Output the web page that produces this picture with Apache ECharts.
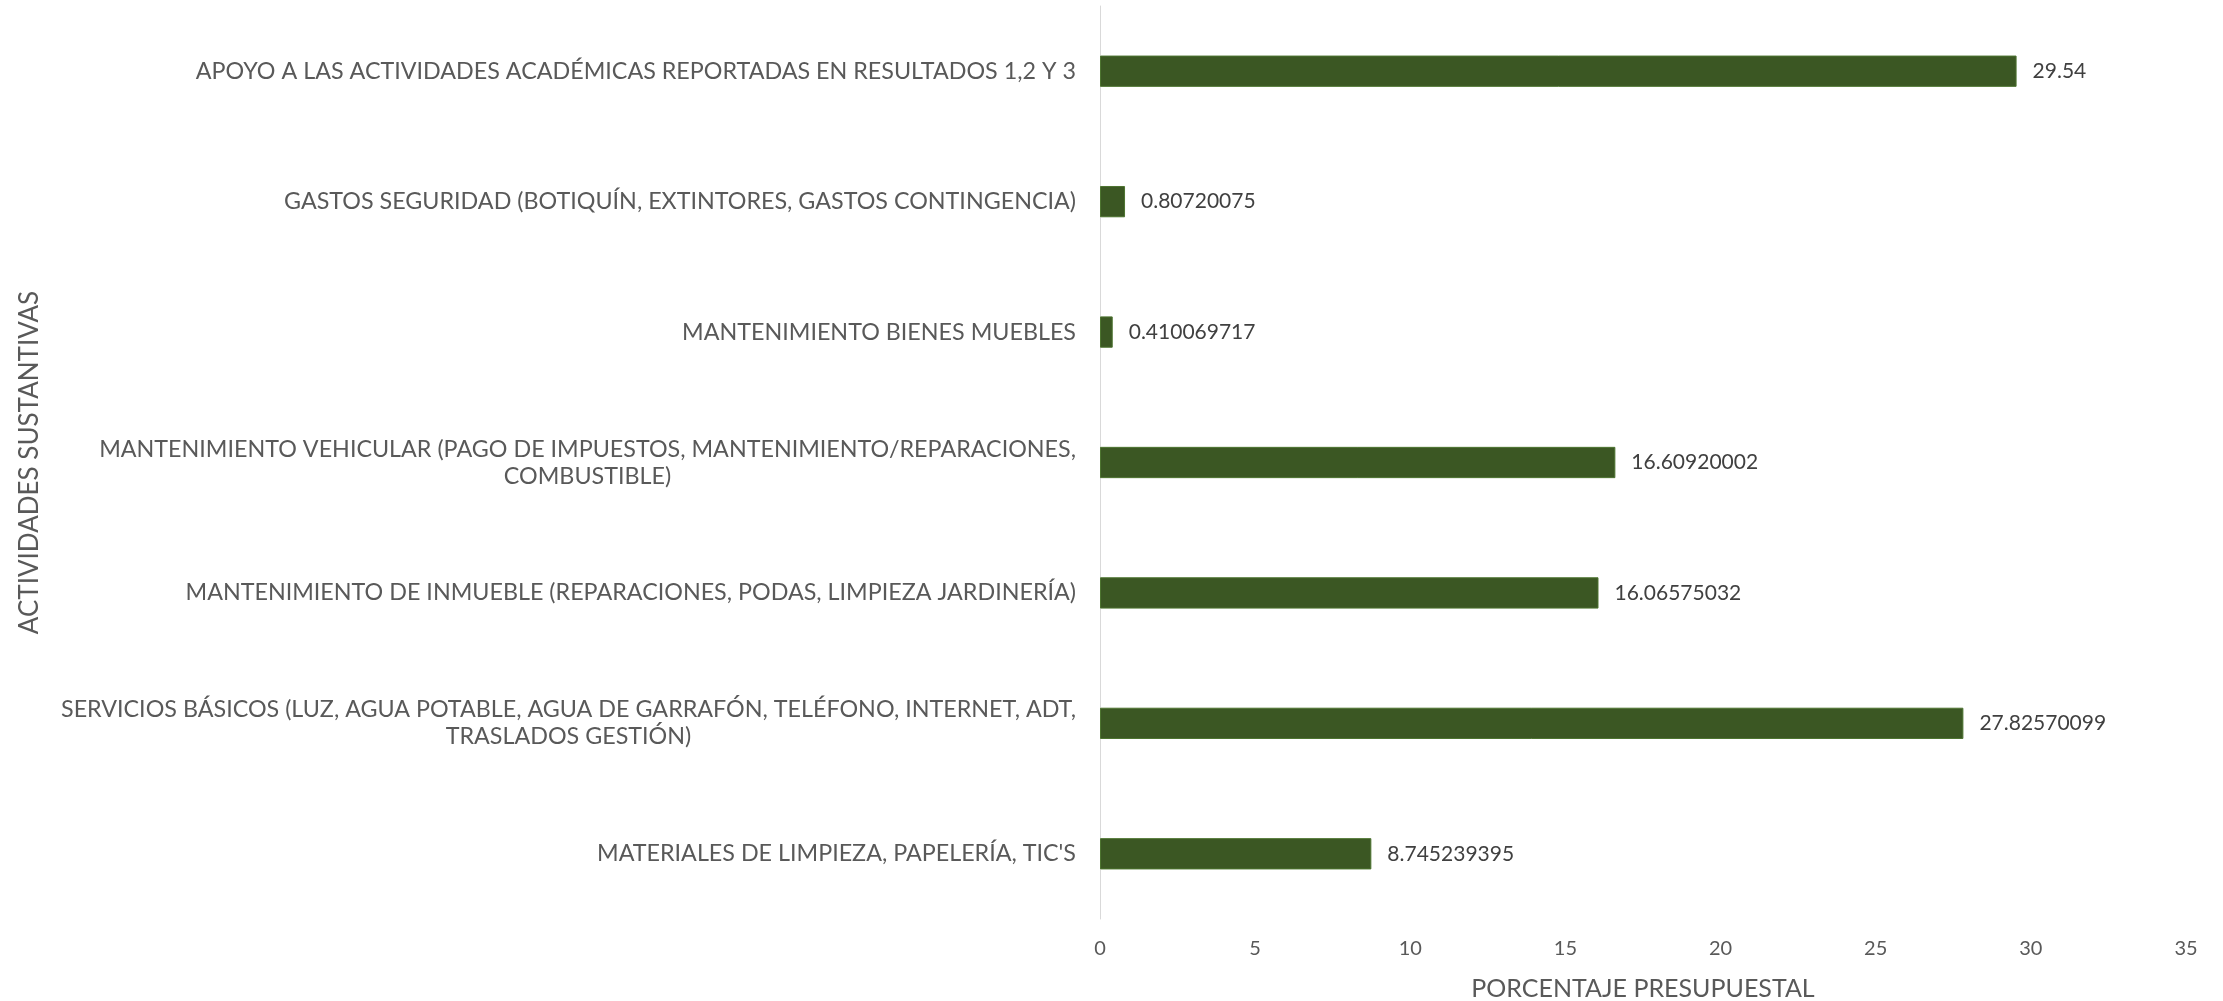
<!DOCTYPE html>
<html>
<head>
<meta charset="utf-8">
<script src="https://cdn.jsdelivr.net/npm/echarts@6/dist/echarts.min.js"></script>
<style>
html,body{margin:0;padding:0;background:#fff;}
#c{width:2223px;height:1001px;}
</style>
</head>
<body>
<div id="c"></div>
<script>
const categories = [
  "MATERIALES DE LIMPIEZA, PAPELERÍA, TIC'S",
  "SERVICIOS BÁSICOS (LUZ, AGUA POTABLE, AGUA DE GARRAFÓN, TELÉFONO, INTERNET, ADT,\nTRASLADOS GESTIÓN)",
  "MANTENIMIENTO DE INMUEBLE (REPARACIONES, PODAS, LIMPIEZA JARDINERÍA)",
  "MANTENIMIENTO VEHICULAR (PAGO DE IMPUESTOS, MANTENIMIENTO/REPARACIONES,\nCOMBUSTIBLE)",
  "MANTENIMIENTO BIENES MUEBLES",
  "GASTOS SEGURIDAD (BOTIQUÍN, EXTINTORES, GASTOS CONTINGENCIA)",
  "APOYO A LAS ACTIVIDADES ACADÉMICAS REPORTADAS EN RESULTADOS 1,2 Y 3"
];
const values = [8.745239395, 27.82570099, 16.06575032, 16.60920002, 0.410069717, 0.80720075, 29.54];
const valueLabels = ["8.745239395", "27.82570099", "16.06575032", "16.60920002", "0.410069717", "0.80720075", "29.54"];
const xTicks = [0, 5, 10, 15, 20, 25, 30, 35];

const FONT = 'Lato';
const LABEL_SIZE = 23.3;
const LINE_H = 27;
const TEXT = '#595959';

const cv = document.createElement('canvas').getContext('2d');
cv.font = LABEL_SIZE + 'px ' + FONT;

const chart = echarts.init(document.getElementById('c'));
chart.setOption({
  animation: false,
  backgroundColor: '#ffffff',
  grid: { left: 1100, right: 37, top: 6, bottom: 82, containLabel: false, outerBoundsMode: 'none' },
  xAxis: {
    type: 'value',
    min: xTicks[0],
    max: xTicks[xTicks.length - 1],
    interval: 5,
    name: 'PORCENTAJE PRESUPUESTAL',
    nameLocation: 'middle',
    nameGap: 57,
    nameTextStyle: { fontFamily: FONT, fontSize: 25, color: TEXT },
    axisLine: { show: false },
    axisTick: { show: false },
    splitLine: { show: false },
    axisLabel: { fontFamily: FONT, fontSize: 20, color: TEXT, margin: 20 }
  },
  yAxis: {
    type: 'category',
    data: categories,
    name: 'ACTIVIDADES SUSTANTIVAS',
    nameLocation: 'middle',
    nameRotate: 90,
    nameGap: 1057,
    nameTextStyle: { fontFamily: FONT, fontSize: 26, color: TEXT },
    axisLine: { show: true, lineStyle: { color: '#d9d9d9', width: 1 } },
    axisTick: { show: false },
    axisLabel: {
      fontFamily: FONT, fontSize: LABEL_SIZE, color: TEXT, margin: 24, lineHeight: LINE_H,
      formatter: function (v) {
        const parts = v.split('\n');
        if (parts.length === 1) return '{a|' + v + '}';
        const w = Math.ceil(cv.measureText(parts[0]).width);
        return '{a|' + parts[0] + '}\n{b' + w + '|' + parts[1] + '}';
      },
      rich: (function () {
        const r = { a: { fontFamily: FONT, fontSize: LABEL_SIZE, color: TEXT, lineHeight: LINE_H } };
        categories.forEach(function (c) {
          const p = c.split('\n');
          if (p.length > 1) {
            const w = Math.ceil(cv.measureText(p[0]).width);
            r['b' + w] = { fontFamily: FONT, fontSize: LABEL_SIZE, color: TEXT, lineHeight: LINE_H, width: w, align: 'center' };
          }
        });
        return r;
      })()
    }
  },
  series: [{
    type: 'bar',
    data: values,
    barWidth: '24%',
    itemStyle: { color: '#3b5723', borderColor: '#4d7430', borderWidth: 1 },
    label: {
      show: true,
      position: 'right',
      distance: 16,
      fontFamily: FONT,
      fontSize: 21,
      color: '#404040',
      formatter: function (p) { return valueLabels[p.dataIndex]; }
    }
  }]
});
</script>
</body>
</html>
